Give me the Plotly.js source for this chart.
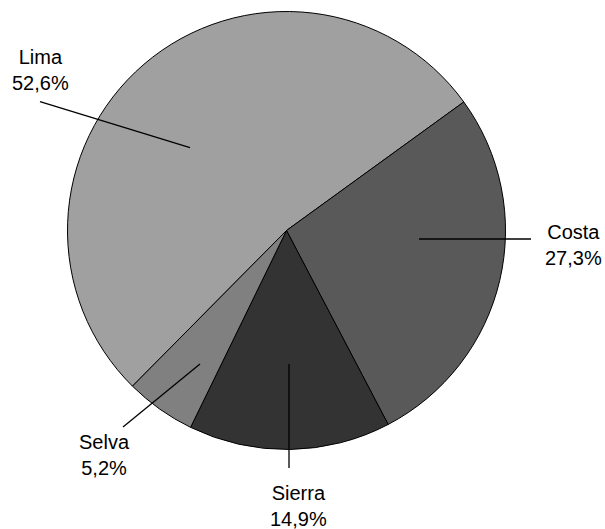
<!DOCTYPE html>
<html>
<head>
<meta charset="utf-8">
<script src="https://cdn.plot.ly/plotly-3.0.1.min.js"></script>
<style>
  html, body { margin: 0; padding: 0; background: #ffffff; }
  #chart { width: 605px; height: 529px; }
</style>
</head>
<body>
<div id="chart"></div>
<script>
// ---- data ----
var regions = ["Lima", "Costa", "Sierra", "Selva"];
var shares = [52.6, 27.3, 14.9, 5.2];
var sliceColors = ["#a0a0a0", "#595959", "#333333", "#808080"];

// ---- label layout (pixel positions in the 605x529 canvas) ----
var W = 605, H = 529;
var labelCenters = [[40, 70], [573, 245], [298, 506], [104, 455]];
var leaderLines = [
  [[40, 101.7], [190, 147.7]],
  [[531, 239], [419, 239]],
  [[289, 468], [289, 364]],
  [[123, 427], [200, 364]]
];

function px(x) { return x / W; }
function py(y) { return 1 - y / H; }

var pctText = shares.map(function (v) { return v.toFixed(1).replace('.', ',') + '%'; });

var trace = {
  type: 'pie',
  labels: regions,
  values: shares,
  sort: false,
  direction: 'clockwise',
  rotation: -135.3,
  textinfo: 'none',
  hoverinfo: 'skip',
  marker: { colors: sliceColors, line: { color: '#000000', width: 1 } },
  domain: { x: [px(67.5), px(505.5)], y: [py(449.5), py(11.5)] },
  automargin: false,
  showlegend: false
};

var annotations = regions.map(function (r, i) {
  return {
    xref: 'paper', yref: 'paper',
    x: px(labelCenters[i][0]), y: py(labelCenters[i][1]),
    xanchor: 'center', yanchor: 'middle',
    text: r + '<br>' + pctText[i],
    showarrow: false,
    align: 'center',
    font: { family: 'Liberation Sans, Arial, sans-serif', size: 20, color: '#000000' }
  };
});

var shapes = leaderLines.map(function (l) {
  return {
    type: 'line', xref: 'paper', yref: 'paper',
    x0: px(l[0][0]), y0: py(l[0][1]), x1: px(l[1][0]), y1: py(l[1][1]),
    line: { color: '#000000', width: 1.3 }
  };
});

var layout = {
  width: W, height: H,
  margin: { l: 0, r: 0, t: 0, b: 0 },
  paper_bgcolor: '#ffffff',
  plot_bgcolor: '#ffffff',
  showlegend: false,
  annotations: annotations,
  shapes: shapes
};

Plotly.newPlot('chart', [trace], layout, { displayModeBar: false, staticPlot: true });
</script>
</body>
</html>
